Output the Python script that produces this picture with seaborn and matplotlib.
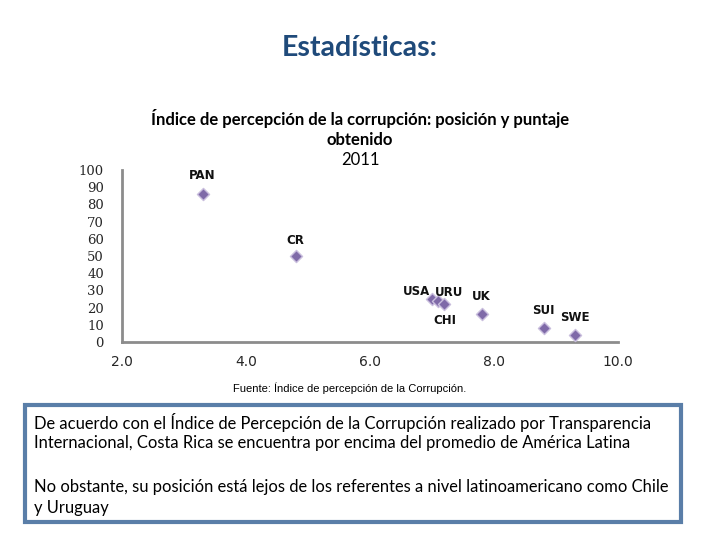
import matplotlib
matplotlib.use("Agg")
import matplotlib.pyplot as plt
import seaborn as sns
import pandas as pd
from matplotlib.patches import Rectangle

# Data
countries = ["PAN", "CR", "URU", "USA", "CHI", "UK", "SUI", "SWE"]
puntaje = [3.3, 4.8, 7.0, 7.1, 7.2, 7.8, 8.8, 9.3]
posicion = [86, 50, 25, 24, 22, 16, 8, 4]
x_ticks = [2.0, 4.0, 6.0, 8.0, 10.0]
y_ticks = [0, 10, 20, 30, 40, 50, 60, 70, 80, 90, 100]

df = pd.DataFrame({"pais": countries, "puntaje": puntaje, "posicion": posicion})

sns.set_theme(style="white")
plt.rcParams["font.family"] = ["Lato", "DejaVu Sans"]

fig = plt.figure(figsize=(7.2, 5.4), dpi=100)
fig.patch.set_facecolor("white")
ax = fig.add_axes([122 / 720, 1 - 342 / 540, (618 - 122) / 720, (342 - 170) / 540])

sns.scatterplot(data=df, x="puntaje", y="posicion", ax=ax, marker="D", s=38,
                color="#7F6AA8", edgecolor="#C9BEDD", linewidth=1.0, legend=False, zorder=3)

ax.set_xlim(2, 10)
ax.set_ylim(0, 100)
ax.set_xticks(x_ticks)
ax.set_xticklabels([f"{v:.1f}" for v in x_ticks], fontsize=10, family="DejaVu Sans")
ax.set_yticks(y_ticks)
ax.set_yticklabels([str(v) for v in y_ticks], fontsize=9.5, family="DejaVu Serif")
ax.tick_params(axis="x", length=0, pad=9)
ax.tick_params(axis="y", length=0, pad=13)
ax.set_xlabel("")
ax.set_ylabel("")
for s in ["top", "right"]:
    ax.spines[s].set_visible(False)
for s in ["left", "bottom"]:
    ax.spines[s].set_color("#8C8C8C")
    ax.spines[s].set_linewidth(2)
ax.grid(False)

offsets = {
    "PAN": (0, 19), "CR": (0, 16), "URU": (17, 7), "USA": (-22, 9),
    "CHI": (0, -16), "UK": (0, 18), "SUI": (0, 18), "SWE": (0, 18),
}
for _, r in df.iterrows():
    dx, dy = offsets[r["pais"]]
    ax.annotate(r["pais"], (r["puntaje"], r["posicion"]), textcoords="offset pixels",
                xytext=(dx, dy), ha="center", va="center", fontsize=8.5,
                fontweight="bold", family="DejaVu Sans", color="#111111",
                annotation_clip=False)

# Slide title
fig.text(0.5, 1 - 48 / 540, "Estadísticas:", ha="center", va="center",
         fontsize=20.5, fontweight="bold", color="#1F4A7A")

# Chart title
fig.text(0.5, 1 - 119 / 540, "Índice de percepción de la corrupción: posición y puntaje",
         ha="center", va="center", fontsize=12, fontweight="bold", color="black")
fig.text(0.5, 1 - 140 / 540, "obtenido", ha="center", va="center",
         fontsize=12, fontweight="bold", color="black")
fig.text(0.5, 1 - 160 / 540, "2011", ha="center", va="center",
         fontsize=12, color="black")

# Source
fig.text(350 / 720, 1 - 388 / 540, "Fuente: Índice de percepción de la Corrupción.",
         ha="center", va="center", fontsize=8, family="Liberation Sans", color="black")

# Text box
box = Rectangle((25 / 720, 1 - 522 / 540), (681 - 25) / 720, (522 - 405) / 540,
                transform=fig.transFigure, facecolor="white", edgecolor="#5A7EA8",
                linewidth=3, zorder=0)
fig.patches.append(box)
lines = [
    (422, "De acuerdo con el Índice de Percepción de la Corrupción realizado por Transparencia"),
    (443, "Internacional, Costa Rica se encuentra por encima del promedio de América Latina"),
    (487, "No obstante, su posición está lejos de los referentes a nivel latinoamericano como Chile"),
    (508, "y Uruguay"),
]
for y, t in lines:
    fig.text(34 / 720, 1 - y / 540, t, ha="left", va="center", fontsize=11.9, color="black")

fig.savefig("out.png", dpi=100)
